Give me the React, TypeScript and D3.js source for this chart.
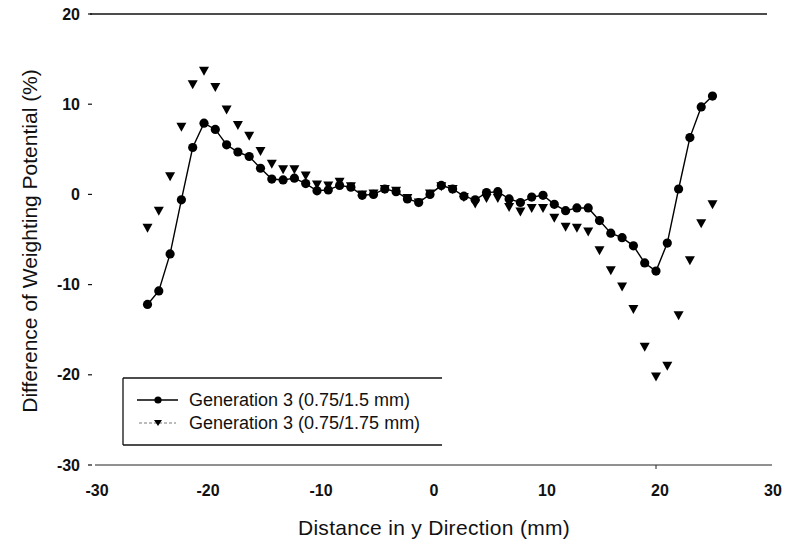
import React from "react";
import * as d3 from "d3";

// Position along y (mm) for every sample
const positions = [
  -25, -24, -23, -22, -21, -20, -19, -18, -17, -16, -15, -14, -13, -12, -11, -10,
  -9, -8, -7, -6, -5, -4, -3, -2, -1, 0, 1, 2, 3, 4, 5, 6, 7, 8, 9, 10,
  11, 12, 13, 14, 15, 16, 17, 18, 19, 20, 21, 22, 23, 24, 25,
];

// Generation 3 (0.75/1.5 mm)
const gen3Narrow = [
  -12.2, -10.7, -6.6, -0.6, 5.2, 7.9, 7.2, 5.5, 4.7, 4.2, 2.9, 1.7, 1.6, 1.8, 1.2, 0.4,
  0.5, 1.0, 0.8, -0.1, 0.0, 0.6, 0.3, -0.5, -0.9, 0.0, 1.0, 0.6, -0.2, -0.6, 0.2, 0.3,
  -0.5, -0.9, -0.3, -0.1, -1.1, -1.8, -1.5, -1.5, -2.9, -4.3, -4.8, -5.7, -7.6, -8.5,
  -5.4, 0.6, 6.3, 9.7, 10.9,
];

// Generation 3 (0.75/1.75 mm)
const gen3Wide = [
  -3.7, -1.8, 2.0, 7.5, 12.2, 13.7, 11.9, 9.4, 7.7, 6.5, 4.8, 3.4, 2.8, 2.8, 2.1, 1.1,
  1.0, 1.4, 0.9, 0.0, 0.1, 0.6, 0.4, -0.4, -0.9, 0.1, 0.9, 0.6, -0.3, -1.0, -0.4, -0.4,
  -1.4, -1.9, -1.5, -1.5, -2.6, -3.6, -3.7, -4.1, -6.2, -8.4, -10.2, -12.7, -16.9, -20.2,
  -19.0, -13.4, -7.3, -3.2, -1.1,
];

const xTicks = [-30, -20, -10, 0, 10, 20, 30];
const yTicks = [20, 10, 0, -10, -20, -30];
const legendLabels = ["Generation 3 (0.75/1.5 mm)", "Generation 3 (0.75/1.75 mm)"];

const W = 785;
const H = 546;
const FONT = "'Liberation Sans', Arial, Helvetica, sans-serif";

const x = d3.scaleLinear().domain([-30, 30]).range([91, 769]);
const y = d3.scaleLinear().domain([-30, 20]).range([465, 14]);

const tri = (cx: number, cy: number) =>
  `M${cx - 5},${cy - 4}L${cx + 5},${cy - 4}L${cx},${cy + 5}Z`;

export default function App() {
  const narrow = positions.map((p, i) => [p, gen3Narrow[i]] as [number, number]);
  const wide = positions.map((p, i) => [p, gen3Wide[i]] as [number, number]);
  const line = d3
    .line<[number, number]>()
    .x((d) => x(d[0]))
    .y((d) => y(d[1]));

  const lgX = 123;
  const lgTop = 378;
  const lgBottom = 445;
  const lgRight = 442;
  const rowY = [400, 423];

  return (
    <svg
      width={W}
      height={H}
      style={{ position: "absolute", left: 0, top: 0, background: "#fff" }}
      fontFamily={FONT}
    >
      <rect width={W} height={H} fill="#fff" />

      {/* frame lines at the top and bottom of the plot */}
      <line x1={90} x2={767} y1={y(20)} y2={y(20)} stroke="#111" strokeWidth={1.3} />
      <line x1={95} x2={772} y1={y(-30)} y2={y(-30)} stroke="#222" strokeWidth={1} />

      {/* y axis ticks and labels */}
      {yTicks.map((t) => (
        <g key={t}>
          <line x1={88} x2={92} y1={y(t)} y2={y(t)} stroke="#111" strokeWidth={1.2} />
          <text
            x={80}
            y={y(t)}
            dy="0.35em"
            textAnchor="end"
            fontSize={16}
            fontWeight="bold"
            fill="#111"
          >
            {t}
          </text>
        </g>
      ))}

      {/* x axis labels */}
      {xTicks.map((t) => (
        <text
          key={t}
          x={x(t) + (t === -30 ? 6 : 4)}
          y={496}
          textAnchor="middle"
          fontSize={16}
          fontWeight="bold"
          fill="#111"
        >
          {t}
        </text>
      ))}
      <line x1={x(20)} x2={x(20)} y1={y(-30)} y2={y(-30) + 4} stroke="#222" strokeWidth={1} />

      {/* axis titles */}
      <text x={434} y={535} textAnchor="middle" fontSize={21} letterSpacing={0.3} fill="#111">
        Distance in y Direction (mm)
      </text>
      <text
        transform={`translate(37,241) rotate(-90)`}
        textAnchor="middle"
        fontSize={21}
        fill="#111"
      >
        Difference of Weighting Potential (%)
      </text>

      {/* series: 0.75/1.5 mm, line with circles */}
      <path d={line(narrow) || ""} fill="none" stroke="#000" strokeWidth={1.4} />
      {narrow.map((d, i) => (
        <circle key={`c${i}`} cx={x(d[0])} cy={y(d[1])} r={4.6} fill="#000" />
      ))}

      {/* series: 0.75/1.75 mm, triangles only */}
      {wide.map((d, i) => (
        <path key={`t${i}`} d={tri(x(d[0]), y(d[1]))} fill="#000" />
      ))}

      {/* legend */}
      <g>
        <line x1={lgX} x2={lgRight} y1={lgTop} y2={lgTop} stroke="#111" strokeWidth={1.3} />
        <line x1={lgX} x2={lgRight} y1={lgBottom} y2={lgBottom} stroke="#111" strokeWidth={1.3} />
        <line x1={lgX} x2={lgX} y1={lgTop} y2={lgBottom} stroke="#111" strokeWidth={1.3} />

        <line x1={137} x2={178} y1={rowY[0]} y2={rowY[0]} stroke="#000" strokeWidth={1.4} />
        <circle cx={158} cy={rowY[0]} r={3.6} fill="#000" />
        <text x={189} y={rowY[0]} dy="0.35em" fontSize={18} fill="#111">
          {legendLabels[0]}
        </text>

        <line
          x1={139}
          x2={176}
          y1={rowY[1]}
          y2={rowY[1]}
          stroke="#555"
          strokeWidth={0.8}
          strokeDasharray="3,2"
        />
        <path d={`M154,${rowY[1] - 3}L162,${rowY[1] - 3}L158,${rowY[1] + 3}Z`} fill="#000" />
        <text x={189} y={rowY[1]} dy="0.35em" fontSize={18} fill="#111">
          {legendLabels[1]}
        </text>
      </g>
    </svg>
  );
}
